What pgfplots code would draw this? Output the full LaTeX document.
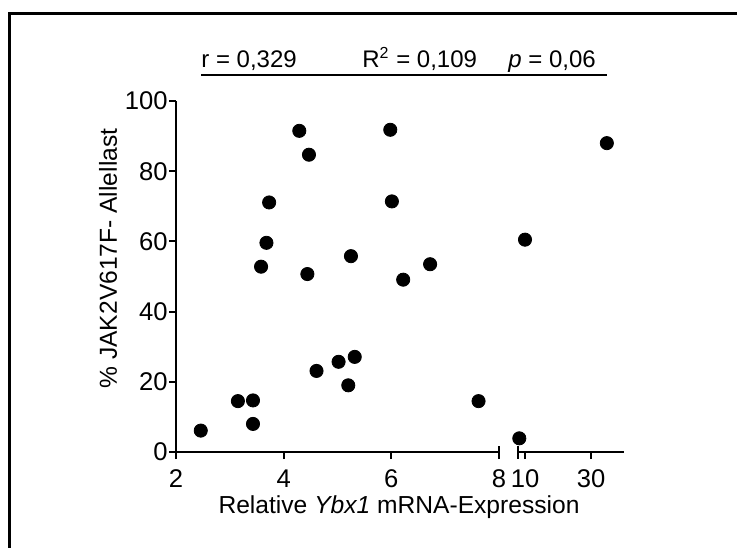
\documentclass[border=0pt]{standalone}
\usepackage{fontspec}
\setmainfont{Liberation Sans}
\usepackage{pgfplots}
\pgfplotsset{compat=1.18}
\newcommand\fs{\fontsize{12}{14.4}\selectfont}
\newcommand\ft{\fontsize{12.8}{15}\selectfont}
\newcommand\fl{\fontsize{12.3}{14.8}\selectfont}
\pgfplotsset{
  brk/.style={
    anchor=south west, scale only axis, height=175.5pt,
    ymin=0, ymax=100, clip=false,
    tick align=outside, major tick length=3.5pt,
    axis line style={line width=1pt, black},
    tick style={line width=1pt, black},
    xticklabel={\ft\pgfmathprintnumber[assume math mode=true]{\tick}},
    yticklabel={\ft\pgfmathprintnumber[assume math mode=true]{\tick}},
    yticklabel style={inner xsep=0.5pt},
    xticklabel style={yshift=-1pt},
  }
}
\begin{document}
\fs
\begin{tikzpicture}[font=\fs]
\useasboundingbox (0,0) rectangle (368.5pt,-273.5pt);
\draw[line width=1.5pt, line join=miter] (4.75pt,-280pt) -- (4.75pt,-6.5pt) -- (375pt,-6.5pt);
\begin{axis}[brk, at={(88pt,-226pt)}, width=161.5pt,
  xmin=2, xmax=8, axis x line*=bottom, axis y line*=left,
  xtick={2,4,6,8}, ytick={0,20,40,60,80,100}]
\addplot[only marks, mark=*, mark size=3.3pt, black] coordinates {
(2.46,6.1) (3.15,14.5) (3.43,14.7) (3.43,8.0) (3.58,52.8) (3.68,59.6)
(3.73,71.1) (4.29,91.5) (4.47,84.7) (4.44,50.7) (4.61,23.1) (5.02,25.7)
(5.20,19.0) (5.25,55.8) (5.32,27.1) (5.98,91.8) (6.01,71.4) (6.22,49.1)
(6.72,53.5) (7.62,14.5)
};
\draw[line width=1pt] ([yshift=3pt]axis cs:8,0) -- ([yshift=-3.5pt]axis cs:8,0);
\end{axis}
\begin{axis}[brk, at={(259.2pt,-226pt)}, width=52.8pt,
  xmin=8, xmax=40, axis x line*=bottom, axis y line=none,
  xtick={10,30}, ytick=\empty]
\addplot[only marks, mark=*, mark size=3.3pt, black] coordinates {
(8.27,3.9) (10.0,60.5) (34.8,88.0)
};
\draw[line width=1pt] ([yshift=3pt]axis cs:8,0) -- ([yshift=-3.5pt]axis cs:8,0);
\end{axis}
\node[anchor=base, inner sep=0pt, font=\fl] at (199.5pt,-256.5pt) {Relative \textit{Ybx1} mRNA-Expression};
\node[rotate=90, anchor=center, inner sep=0pt, font=\fl] at (54pt,-129.25pt) {\% JAK2V617F- Allellast};
\node[anchor=base west, inner sep=0pt] at (100.5pt,-33.6pt) {r = 0,329};
\node[anchor=base west, inner sep=0pt] at (181pt,-33.6pt) {R\textsuperscript{2} = 0,109};
\node[anchor=base west, inner sep=0pt] at (254pt,-33.6pt) {\textit{p} = 0,06};
\draw[line width=1pt] (100.5pt,-37.4pt) -- (303.5pt,-37.4pt);
\end{tikzpicture}
\end{document}
